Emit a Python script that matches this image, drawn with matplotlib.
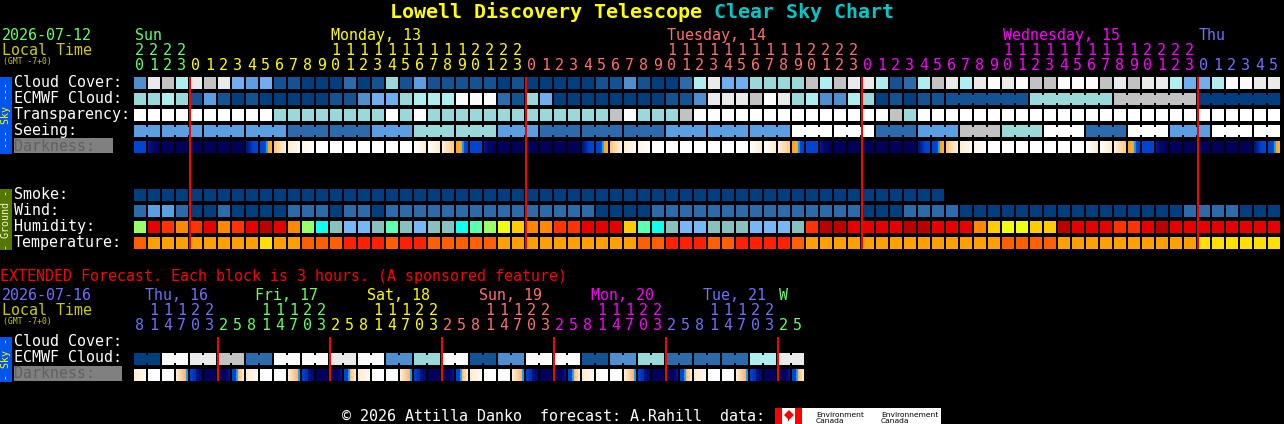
import numpy as np
import matplotlib as mpl
mpl.use("Agg")
import matplotlib.pyplot as plt
from matplotlib.colors import to_rgb

# ---- Data ----
# sky rows hold a level 0..11, looked up in LEVELS
cloud = [3,9,8,7,9,8,9,5,4,5,1,1,0,0,0,2,0,1,6,1,4,
         1,1,1,1,1,0,1,0,0,0,0,0,1,1,3,1,0,0,2,7,9,5,5,6,6,6,6,8,7,8,9,
         9,7,1,2,7,8,9,7,9,10,9,10,8,8,10,10,10,8,9,8,9,9,7,5,5,7,10,10,9,9]
ecmwf = [6,6,7,6,1,4,1,0,1,0,0,0,0,0,1,1,3,5,5,6,7,
         7,7,10,10,10,2,1,6,5,0,0,0,0,0,0,0,0,1,1,3,9,9,9,8,10,9,6,7,3,3,7,
         6,0,1,0,1,1,1,1,1,1,1,1,6,6,6,6,6,6,8,8,8,8,8,8,0,0,0,0,0,0]
ecmwf_starts = list(range(59)) + [64, 70, 76]
transparency = [11]*10 + [6]*8 + [11,6,11] + [6]*13 + [8,11,6,6,6,8] + [11]*14 + [8,6] + [11]*26
seeing_groups = [4,4,4,4,2,2,4,6,6,4,2,2,2,4,4,4,11,11,2,4,8,6,11,2,11,4,11,11]
seeing_sizes = [2] + [3]*26 + [2]
smoke = [0]*58
wind = [2,4,4,2,0,0,2,0,0,0,0,2,2,2,0,2,2,0,2,2,2] + [2]*12 + [0]*4 + [2]*15 + [0]*3 + [2]*4 + [0]*16 + [2]*4 + [0]*3
humidity = list("HBDEDBEDBABEHJKLLKIKL" "KKJIHGFEEDDBBBFIJKLLKKKLLLKDAAB" "BBBAABBBEFGGFFABBBDDBABBBBBBBB")
temperature = list("abbbbbbbbcbbaaadddadd" "aaaaabbbbbbbbbbaadddaaddddabbbb" "bbbbbbbbbbaaaabbbbbbbbbbcccccc")
darkness = ("b d n n n n n n e a p c k w w w w w w w f f g u "
            "b d n n n n n n e a p c k w w w w w w w f f g u "
            "b d n n n n n n e a p c k w w w w w w w f f g u "
            "b d n n n n n n e a").split()
hours = [20,21,22,23,0,1,2,3,4,5,6,7,8,9,10,11,12,13,14,15,16,17,18,19,20,21,22,23,
         0,1,2,3,4,5,6,7,8,9,10,11,12,13,14,15,16,17,18,19,20,21,22,23,
         0,1,2,3,4,5,6,7,8,9,10,11,12,13,14,15,16,17,18,19,20,21,22,23,
         0,1,2,3,4,5]
hour_days = [0]*4 + [1]*24 + [2]*24 + [3]*24 + [4]*6
day_names = ["Sun", "Monday, 13", "Tuesday, 14", "Wednesday, 15", "Thu"]
day_first_block = [0, 14, 38, 62, 76]
day_colors = ["#66ff66", "#ffff00", "#ff7070", "#ff00ff", "#7070ff"]
midnights = [4, 28, 52, 76]

ext_cloud_pairs = [0,10,9,8,2,10,10,9,10,3,6,10,1,3,10,10,1,3,6,2,2,2,7,9]
ext_darkness = "cwwxynzv cwwxynzv cwwxynzv cwwxynzv cwwxynzv cwwxynzv".replace(" ", "")
ext_hours = [8,11,14,17,20,23, 2,5,8,11,14,17,20,23, 2,5,8,11,14,17,20,23,
             2,5,8,11,14,17,20,23, 2,5,8,11,14,17,20,23, 2,5,8,11,14,17,20,23, 2,5]
ext_hour_days = [0]*6 + [1]*8 + [2]*8 + [3]*8 + [4]*8 + [5]*8 + [6]*2
ext_day_names = ["Thu, 16", "Fri, 17", "Sat, 18", "Sun, 19", "Mon, 20", "Tue, 21", "W"]
ext_day_x = [145, 255, 367, 479, 591, 703, 779]
ext_day_colors = ["#7070ff", "#66ff66", "#ffff00", "#ff7070", "#ff00ff", "#7070ff", "#66ff66"]
ext_midnights = [6, 14, 22, 30, 38, 46]

# ---- Colours ----
LEVELS = {0:"#003f7f", 1:"#135393", 2:"#2b6bab", 3:"#4f8fcf", 4:"#5b9fe3", 5:"#6fafef",
          6:"#99d9d9", 7:"#aeeeee", 8:"#c2c2c2", 9:"#eaeaea", 10:"#fbfbfb", 11:"#ffffff"}
HUMID = {"A":"#bb0000", "B":"#e60000", "D":"#ff3300", "E":"#ff8800", "F":"#ffcc00",
         "G":"#eeff11", "H":"#99ff66", "I":"#5cffb0", "J":"#11ffee", "K":"#88c0c0", "L":"#77b7f7"}
TEMP = {"a":"#ff5f00", "b":"#ffa000", "c":"#ffe000", "d":"#ff2000"}
NAVY, BLUE, CYAN = "#00005c", "#0044d0", "#10a0f0"
DARK_STOPS = {
    "n": [(0, NAVY), (1, NAVY)], "w": [(0, "#ffffff"), (1, "#ffffff")], "b": [(0, BLUE), (1, BLUE)],
    "d": [(0, "#001a9a"), (.25, "#000a70"), (1, NAVY)],
    "e": [(0, "#000f70"), (.4, "#0030b0"), (.6, BLUE), (1, BLUE)],
    "a": [(0, BLUE), (.45, BLUE), (.5, CYAN), (.62, CYAN), (.66, "#ffa020"), (1, "#ffb030")],
    "p": [(0, "#ffc070"), (.5, "#ffe0b0"), (1, "#fff0dc")],
    "c": [(0, "#ffeccc"), (1, "#fffbf5")], "k": [(0, "#fff6e8"), (1, "#ffffff")],
    "f": [(0, "#ffffff"), (1, "#ffeccc")], "g": [(0, "#fff0dc"), (1, "#ffc880")],
    "u": [(0, "#ffa020"), (.45, "#ffb030"), (.5, CYAN), (.62, CYAN), (.66, BLUE), (1, BLUE)],
    "x": [(0, "#fff0dc"), (.8, "#ffb868"), (.84, CYAN), (1, CYAN)],
    "y": [(0, BLUE), (.5, "#0030b0"), (.55, "#000f80"), (1, "#000a70")],
    "z": [(0, NAVY), (.6, NAVY), (1, "#0018a0")],
    "v": [(0, BLUE), (.3, BLUE), (.35, CYAN), (.45, CYAN), (.5, "#ffb868"), (1, "#fff0dc")],
}

mpl.rcParams["font.family"] = ["DejaVu Sans Mono"]
fig = plt.figure(figsize=(12.84, 4.24), dpi=100, facecolor="black")
ax = fig.add_axes([0, 0, 1, 1])
ax.set_facecolor("black")
ax.axis("off")

X0, PITCH, SIZE = 134, 14, 12
FS = 10.8

def block_x(i):
    return X0 + PITCH * np.asarray(i)

def box(x, y, w, h, color, zorder=2):
    # unsnapped and on whole pixels, so edges land exactly where they should
    ax.bar(x, h, width=w, bottom=y, align="edge", color=color, linewidth=0, snap=False, zorder=zorder)

def row(values, y, palette=LEVELS, starts=None):
    xs = block_x(np.arange(len(values)))
    colors = [palette[v] for v in values]
    box(xs, y, SIZE, SIZE, colors)
    if starts is not None:
        # blocks of one forecast step are joined by a narrower strip
        joined = [i for i in range(len(values) - 1) if i + 1 not in starts]
        box(block_x(joined) + SIZE, y + 2, PITCH - SIZE, SIZE - 4, [colors[i] for i in joined])

def dark_row(codes, y):
    for i, code in enumerate(codes):
        pos, cols = zip(*DARK_STOPS[code])
        rgb = np.array([to_rgb(c) for c in cols])
        t = (np.arange(SIZE) + .5) / SIZE
        img = np.stack([np.interp(t, pos, rgb[:, k]) for k in range(3)], axis=1)[None, :, :]
        x = block_x(i)
        ax.imshow(img, extent=(x, x + SIZE, y + SIZE, y), aspect="auto", interpolation="nearest", zorder=2)

def label(x, y, s, color="white", size=FS, **kw):
    ax.text(x, y, s, color=color, fontsize=size, va="baseline", ha=kw.pop("ha", "left"), zorder=4, **kw)

def hour_digits(hrs, days, colors, y_tens, y_units):
    for i, (h, d) in enumerate(zip(hrs, days)):
        xc = block_x(i) + SIZE / 2 - .5
        if h >= 10:
            label(xc, y_tens, str(h // 10), colors[d], ha="center")
        label(xc, y_units, str(h % 10), colors[d], ha="center")

def side_bar(y0, y1, color, s, txt_color):
    box(0, y0, 12, y1 - y0, color)
    ax.text(6, (y0 + y1) / 2, s, color=txt_color, fontsize=7.2, rotation=90, ha="center", va="center", zorder=4)

# ---- Title ----
label(390, 18, "Lowell Discovery Telescope", "#ffff00", size=14.4, fontweight="bold")
label(714, 18, "Clear Sky Chart", "#00c8c8", size=14.4, fontweight="bold")

# ---- Main chart header ----
label(2, 40, "2026-07-12", "#66ff66")
label(2, 55, "Local Time", "#cccc00")
label(3, 64, "(GMT -7+0)", "#cccc00", size=5.9)
for name, first, col in zip(day_names, day_first_block, day_colors):
    label(block_x(first) + 1, 40, name, col)
hour_digits(hours, hour_days, day_colors, 55, 70)

# ---- Main chart rows ----
side_bar(77, 154, "#0055ee", "--- Sky ---", "#ffff00")
side_bar(189, 250, "#557700", "- Ground -", "#f4f4d8")
for y, s in zip([87, 103, 119, 135], ["Cloud Cover:", "ECMWF Cloud:", "Transparency:", "Seeing:"]):
    label(14, y, s)
box(14, 138, 99, 15, "#808080")
label(14, 151, "Darkness:", "#606060")
for y, s in zip([199, 215, 231, 247], ["Smoke:", "Wind:", "Humidity:", "Temperature:"]):
    label(14, y, s)

row(cloud, 77)
row(ecmwf, 93, starts=ecmwf_starts)
row(transparency, 109)
row(list(np.repeat(seeing_groups, seeing_sizes)), 125, starts=list(np.cumsum(seeing_sizes)))
dark_row(darkness, 141)
row(smoke, 189)
row(wind, 205)
row(humidity, 221, palette=HUMID)
row(temperature, 237, palette=TEMP)
box(block_x(midnights) - 1, 77, 2, 172, "#ff0000", zorder=3)

# ---- Extended forecast ----
label(0, 281, "EXTENDED Forecast. Each block is 3 hours. (A sponsored feature)", "#ff0000")
label(2, 300, "2026-07-16", "#7070ff")
label(2, 315, "Local Time", "#cccc00")
label(3, 324, "(GMT -7+0)", "#cccc00", size=5.9)
for name, x, col in zip(ext_day_names, ext_day_x, ext_day_colors):
    label(x, 300, name, col)
hour_digits(ext_hours, ext_hour_days, ext_day_colors, 315, 330)

side_bar(337, 382, "#0055ee", "- Sky -", "#ffff00")
label(14, 346, "Cloud Cover:")
label(14, 362, "ECMWF Cloud:")
box(14, 366, 108, 15, "#808080")
label(14, 378, "Darkness:", "#606060")
row(list(np.repeat(ext_cloud_pairs, 2)), 353, starts=list(range(0, 48, 2)))
dark_row(ext_darkness, 369)
box(block_x(ext_midnights) - 1, 337, 2, 44, "#ff0000", zorder=3)

# ---- Footer ----
label(342, 421, "\u00a9 2026 Attilla Danko  forecast: A.Rahill  data:")
box(775, 408, 166, 16, "#ffffff")
box(775, 408, 7, 16, "#ff0000", zorder=3)
box(795, 408, 7, 16, "#ff0000", zorder=3)
ax.plot([788.5], [415], marker="D", ms=5, color="#ff0000", mew=0, zorder=3)
box(788, 415, 1, 6, "#ff0000", zorder=3)
for x, s in zip([816, 881], ["Environment\nCanada", "Environnement\nCanada"]):
    ax.text(x, 424, s, color="black", fontsize=5.4, family="DejaVu Sans", linespacing=.95, va="bottom", zorder=4)

ax.set_xlim(0, 1284)
ax.set_ylim(424, 0)
fig.savefig("out.png", dpi=100, facecolor="black")
